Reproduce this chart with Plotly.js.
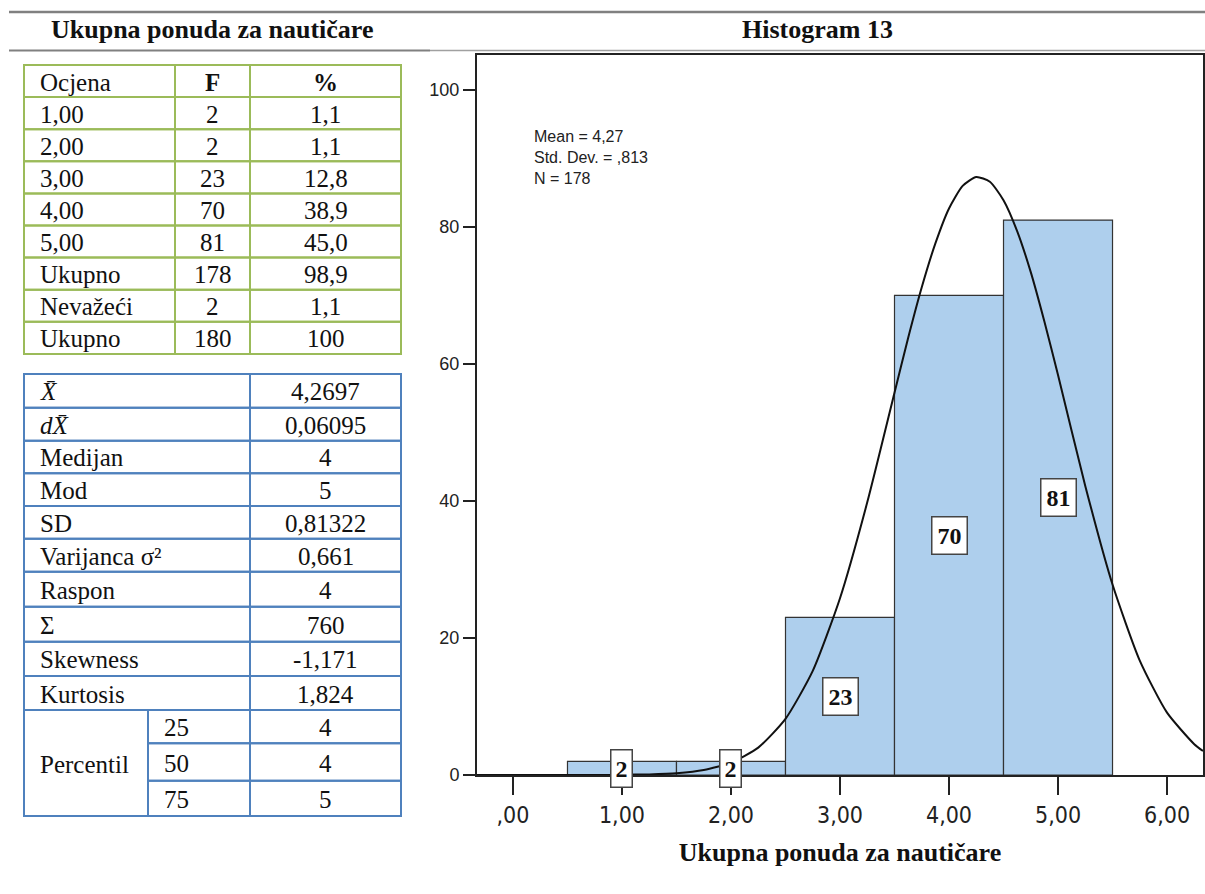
<!DOCTYPE html>
<html>
<head>
<meta charset="utf-8">
<script src="https://cdn.plot.ly/plotly-3.0.1.min.js"></script>
<style>html,body{margin:0;padding:0;background:#fff;}#chart{width:1205px;height:894px;}</style>
</head>
<body>
<div id="chart"></div>
<script>
// ---------- DATA ----------
const leftTitle = 'Ukupna ponuda za nautičare';
const chartTitle = 'Histogram 13';
const xAxisTitle = 'Ukupna ponuda za nautičare';

// Frequency table
const t1Header = ['Ocjena', 'F', '%'];
const t1Labels = ['1,00', '2,00', '3,00', '4,00', '5,00', 'Ukupno', 'Nevažeći', 'Ukupno'];
const t1F      = ['2', '2', '23', '70', '81', '178', '2', '180'];
const t1Pct    = ['1,1', '1,1', '12,8', '38,9', '45,0', '98,9', '1,1', '100'];

// Descriptive statistics table
const t2Labels = ['<i>X\u0304</i>', '<i>dX\u0304</i>', 'Medijan', 'Mod', 'SD', 'Varijanca σ²', 'Raspon', 'Σ', 'Skewness', 'Kurtosis'];
const t2Values = ['4,2697', '0,06095', '4', '5', '0,81322', '0,661', '4', '760', '-1,171', '1,824'];
const pctLabel  = 'Percentil';
const pctKeys   = ['25', '50', '75'];
const pctValues = ['4', '4', '5'];

// Histogram
const binCenters = [1, 2, 3, 4, 5];
const counts     = [2, 2, 23, 70, 81];
const xTickVals  = [0, 1, 2, 3, 4, 5, 6];
const xTickText  = [',00', '1,00', '2,00', '3,00', '4,00', '5,00', '6,00'];
const yTickVals  = [0, 20, 40, 60, 80, 100];
const statLines  = ['Mean = 4,27', 'Std. Dev. = ,813', 'N = 178'];

// Normal curve
const curveX = [-0.33, 0, 0.25, 0.5, 0.75, 1.0, 1.25, 1.5, 1.75, 2.0, 2.25, 2.5, 2.75, 3.0, 3.25, 3.5, 3.625, 3.75, 3.875, 4.0, 4.125, 4.25, 4.375, 4.5, 4.625, 4.75, 4.875, 5.0, 5.25, 5.5, 5.75, 6.0, 6.25, 6.33];
const curveY = [0, 0, 0, 0, 0, 0.03, 0.09, 0.26, 0.72, 1.8, 4.0, 8.2, 15.2, 25.8, 39.8, 55.8, 63.8, 71.2, 77.6, 82.7, 86.0, 87.3, 86.6, 83.9, 79.4, 73.4, 66.2, 58.4, 42.2, 27.8, 16.7, 9.1, 4.5, 3.5];

// ---------- LAYOUT HELPERS ----------
const W = 1205, H = 894;
const PX = v => v / W;
const PY = v => 1 - v / H;
const serif = 'Liberation Serif, Times New Roman, serif';
const sans = 'Liberation Sans, Arial, sans-serif';
const narrow = 'Liberation Sans Narrow, DejaVu Sans Condensed, Arial Narrow, sans-serif';
const cellFont = {family: serif, size: 25, color: '#111'};

const shapes = [];
const annotations = [];

function cellRect(x0, y0, x1, y1, color) {
  shapes.push({type: 'rect', xref: 'paper', yref: 'paper', x0: PX(x0), x1: PX(x1), y0: PY(y1), y1: PY(y0),
    line: {color: color, width: 2}, fillcolor: 'rgba(0,0,0,0)', layer: 'above'});
}
function cellText(text, x, y, anchor, font) {
  annotations.push({xref: 'paper', yref: 'paper', x: PX(x), y: PY(y), text: text, showarrow: false,
    xanchor: anchor, yanchor: 'middle', font: font || cellFont});
}

// header lines and titles
shapes.push({type: 'line', xref: 'paper', yref: 'paper', x0: PX(9), x1: PX(1205), y0: PY(12), y1: PY(12), line: {color: '#808080', width: 2.5}});
shapes.push({type: 'line', xref: 'paper', yref: 'paper', x0: PX(9), x1: PX(430), y0: PY(50.5), y1: PY(50.5), line: {color: '#808080', width: 2}});
shapes.push({type: 'line', xref: 'paper', yref: 'paper', x0: PX(430), x1: PX(1205), y0: PY(50.5), y1: PY(50.5), line: {color: '#a0a0a0', width: 1.5}});
cellText(leftTitle, 212, 30, 'center', {family: serif, size: 26, color: '#111', weight: 'bold'});
cellText(chartTitle, 817, 30, 'center', {family: serif, size: 26, color: '#111', weight: 'bold'});

// table 1
const t1Green = '#9bbb59';
const t1Cols = [24, 175, 250, 401];
const t1Top = 65, t1RowH = 32.1;
const t1Rows = [t1Header].concat(t1Labels.map((l, i) => [l, t1F[i], t1Pct[i]]));
t1Rows.forEach((row, r) => {
  const y0 = t1Top + r * t1RowH, y1 = y0 + t1RowH, yc = (y0 + y1) / 2 + 1;
  for (let c = 0; c < 3; c++) {
    cellRect(t1Cols[c], y0, t1Cols[c + 1], y1, t1Green);
    let txt = row[c];
    if (r === 0 && c > 0) txt = '<b>' + txt + '</b>';
    if (c === 0) cellText(txt, t1Cols[0] + 14, yc, 'left');
    else cellText(txt, (t1Cols[c] + t1Cols[c + 1]) / 2, yc, 'center');
  }
});

// table 2
const t2Blue = '#4f81bd';
const t2Cols = [24, 148, 250, 401];
const t2Top = 374;
const t2RowH = [33.7, 33, 32.6, 32.7, 32.7, 33, 35, 35, 34.3, 34, 33.3, 37.4, 35.3];
const rowY = [t2Top];
t2RowH.forEach(h => rowY.push(rowY[rowY.length - 1] + h));
t2Labels.forEach((lab, r) => {
  const y0 = rowY[r], y1 = rowY[r + 1], yc = (y0 + y1) / 2 + 1;
  cellRect(t2Cols[0], y0, t2Cols[2], y1, t2Blue);
  cellRect(t2Cols[2], y0, t2Cols[3], y1, t2Blue);
  cellText(lab, t2Cols[0] + 14, yc, 'left');
  cellText(t2Values[r], (t2Cols[2] + t2Cols[3]) / 2, yc, 'center');
});
const pStart = t2Labels.length;
cellRect(t2Cols[0], rowY[pStart], t2Cols[1], rowY[pStart + pctKeys.length], t2Blue);
cellText(pctLabel, t2Cols[0] + 14, (rowY[pStart] + rowY[pStart + pctKeys.length]) / 2 + 1, 'left');
pctKeys.forEach((k, i) => {
  const y0 = rowY[pStart + i], y1 = rowY[pStart + i + 1], yc = (y0 + y1) / 2 + 1;
  cellRect(t2Cols[1], y0, t2Cols[2], y1, t2Blue);
  cellRect(t2Cols[2], y0, t2Cols[3], y1, t2Blue);
  cellText(k, t2Cols[1] + 14, yc, 'left');
  cellText(pctValues[i], (t2Cols[2] + t2Cols[3]) / 2, yc, 'center');
});

// stats box text in histogram (one block)
annotations.push({xref: 'paper', yref: 'paper', x: PX(532), y: PY(126), text: statLines.join('<br>'), showarrow: false,
  xanchor: 'left', yanchor: 'top', align: 'left', font: {family: sans, size: 16, color: '#222'}});

// bar labels
binCenters.forEach((x, i) => {
  const s = String(counts[i]);
  annotations.push({xref: 'x', yref: 'y', x: x, y: counts[i] / 2, text: '<b>' + s + '</b>', showarrow: false,
    xanchor: 'center', yanchor: 'middle', font: {family: serif, size: 24, color: '#111'},
    width: 14 * s.length + 2, height: 32,
    bgcolor: '#ffffff', bordercolor: '#444', borderwidth: 1.5, borderpad: 2});
});

const traces = [
  {type: 'bar', x: binCenters, y: counts, width: 1, marker: {color: '#aecfed', line: {color: '#333', width: 1.2}}, hoverinfo: 'skip'},
  {type: 'scatter', mode: 'lines', x: curveX, y: curveY, line: {color: '#111', width: 2, shape: 'spline', smoothing: 0.6}, hoverinfo: 'skip'}
];

const layout = {
  width: W, height: H,
  margin: {l: 0, r: 0, t: 0, b: 0},
  paper_bgcolor: '#fff', plot_bgcolor: '#fff',
  showlegend: false, bargap: 0,
  xaxis: {
    domain: [PX(477), PX(1203)], range: [-0.33, 6.33],
    tickmode: 'array', tickvals: xTickVals, ticktext: xTickText,
    ticks: 'outside', ticklen: 18, tickwidth: 2, tickcolor: '#222',
    showline: true, mirror: true, linecolor: '#222', linewidth: 2,
    showgrid: false, zeroline: false,
    tickfont: {family: narrow, size: 23, color: '#222'},
    title: {text: xAxisTitle, font: {family: serif, size: 26, color: '#111', weight: 'bold'}, standoff: 16}
  },
  yaxis: {
    domain: [PY(775), PY(55)], range: [0, 105.1],
    tickmode: 'array', tickvals: yTickVals,
    ticks: 'outside', ticklen: 12, tickwidth: 2, tickcolor: '#222',
    showline: true, mirror: true, linecolor: '#222', linewidth: 2,
    showgrid: false, zeroline: false,
    tickfont: {family: sans, size: 18, color: '#222'}
  },
  shapes: shapes,
  annotations: annotations
};

Plotly.newPlot('chart', traces, layout, {displayModeBar: false, staticPlot: true});
</script>
</body>
</html>
